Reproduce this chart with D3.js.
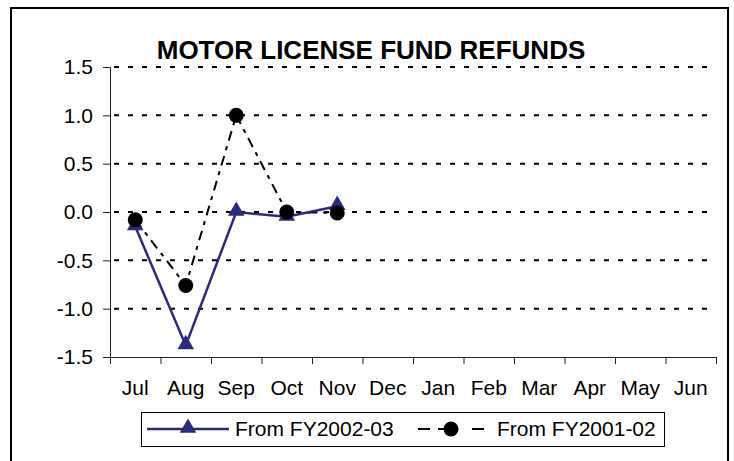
<!DOCTYPE html>
<html>
<head>
<meta charset="utf-8">
<script src="https://cdn.jsdelivr.net/npm/d3@7"></script>
<style>
	body { margin: 0; background: #fff; }
	svg { display: block; font-family: 'Liberation Sans', Arial, sans-serif; }
</style>
</head>
<body>
<script>
const months = ['Jul', 'Aug', 'Sep', 'Oct', 'Nov', 'Dec', 'Jan', 'Feb', 'Mar', 'Apr', 'May', 'Jun'];
const yTicks = [-1.5, -1.0, -0.5, 0.0, 0.5, 1.0, 1.5];
const fy0203 = [-0.15, -1.38, 0.0, -0.05, 0.06]; //Jul..Nov
const fy0102 = [-0.08, -0.76, 1.0, 0.0, -0.01];
const seriesNames = ['From FY2002-03', 'From FY2001-02'];

const svgWidth = 734;
const svgHeight = 461;
const plotLeft = 110, plotRight = 716, plotTop = 67, plotBottom = 357;
const navy = '#2b2b7b';
const labelSize = '21px';

const svg = d3.select('body').append('svg')
	.attr('width', svgWidth)
	.attr('height', svgHeight);

//Outer frame, bottom runs off the picture.
svg.append('rect')
	.attr('x', 11).attr('y', 8)
	.attr('width', 717).attr('height', 480)
	.attr('fill', 'none')
	.attr('stroke', '#000')
	.attr('stroke-width', 2);

const xEdge = d3.scaleLinear().domain([0, months.length]).range([plotLeft, plotRight]);
const xScale = (i) => xEdge(i + 0.5); //centre of category
const yScale = d3.scaleLinear().domain([-1.5, 1.5]).range([plotBottom, plotTop]);

//Gridlines
svg.append('g')
	.selectAll('line')
	.data(yTicks.filter(d => d > -1.5))
	.enter()
	.append('line')
	.attr('x1', plotLeft + 4).attr('x2', plotRight)
	.attr('y1', d => yScale(d)).attr('y2', d => yScale(d))
	.attr('stroke', '#000')
	.attr('stroke-width', 2)
	.attr('stroke-dasharray', '5,9');

//Axes
const yAxis = d3.axisLeft(yScale)
	.tickValues(yTicks)
	.tickSize(7)
	.tickPadding(10)
	.tickFormat(d => d.toFixed(1));

const yG = svg.append('g')
	.attr('transform', 'translate(' + plotLeft + ',0)')
	.call(yAxis);

const xAxis = d3.axisBottom(xEdge)
	.tickValues(d3.range(months.length + 1))
	.tickSize(7)
	.tickFormat('');

const xG = svg.append('g')
	.attr('transform', 'translate(0,' + plotBottom + ')')
	.call(xAxis);

[yG, xG].forEach(g => {
	g.select('.domain').attr('stroke', '#222');
	g.selectAll('.tick line').attr('stroke', '#222');
	g.selectAll('text')
		.attr('font-size', labelSize)
		.attr('font-family', "'Liberation Sans', Arial, sans-serif")
		.attr('fill', '#000');
});

svg.append('g')
	.selectAll('text')
	.data(months)
	.enter()
	.append('text')
	.attr('x', (d, i) => xScale(i))
	.attr('y', 395)
	.attr('text-anchor', 'middle')
	.attr('font-size', labelSize)
	.text(d => d);

//Title
svg.append('text')
	.attr('x', 371)
	.attr('y', 59)
	.attr('text-anchor', 'middle')
	.attr('font-size', '26px')
	.attr('font-weight', 'bold')
	.text('MOTOR LICENSE FUND REFUNDS');

const line = d3.line()
	.x((d, i) => xScale(i))
	.y(d => yScale(d));

const triangle = d3.symbol().type(d3.symbolTriangle).size(120);

function drawTri(g, x, y) {
	g.append('path')
		.attr('d', triangle())
		.attr('transform', 'translate(' + x + ',' + (y - 1) + ')')
		.attr('fill', navy);
}

//Series FY2001-02 (black dash-dot, circles)
svg.append('path')
	.datum(fy0102)
	.attr('d', line)
	.attr('fill', 'none')
	.attr('stroke', '#000')
	.attr('stroke-width', 2)
	.attr('stroke-dasharray', '10,6,4,6');

//Series FY2002-03 (navy, triangles)
svg.append('path')
	.datum(fy0203)
	.attr('d', line)
	.attr('fill', 'none')
	.attr('stroke', navy)
	.attr('stroke-width', 2.5);

fy0203.forEach((d, i) => drawTri(svg, xScale(i), yScale(d)));

svg.append('g')
	.selectAll('circle')
	.data(fy0102)
	.enter()
	.append('circle')
	.attr('cx', (d, i) => xScale(i))
	.attr('cy', d => yScale(d))
	.attr('r', 7.5)
	.attr('fill', '#000');

//Legend
const legend = svg.append('g');
legend.append('rect')
	.attr('x', 141.5).attr('y', 412.5)
	.attr('width', 523).attr('height', 34)
	.attr('fill', '#fff')
	.attr('stroke', '#000')
	.attr('stroke-width', 1);

legend.append('line')
	.attr('x1', 147).attr('x2', 229)
	.attr('y1', 429).attr('y2', 429)
	.attr('stroke', navy)
	.attr('stroke-width', 2.5);
drawTri(legend, 188, 429);
legend.append('text')
	.attr('x', 235).attr('y', 436)
	.attr('font-size', labelSize)
	.text(seriesNames[0]);

legend.append('line')
	.attr('x1', 418).attr('x2', 484)
	.attr('y1', 429).attr('y2', 429)
	.attr('stroke', '#000')
	.attr('stroke-width', 2)
	.attr('stroke-dasharray', '12,8,12,22,12,100');
legend.append('circle')
	.attr('cx', 451).attr('cy', 429)
	.attr('r', 7.5)
	.attr('fill', '#000');
legend.append('text')
	.attr('x', 497).attr('y', 436)
	.attr('font-size', labelSize)
	.text(seriesNames[1]);
</script>
</body>
</html>
